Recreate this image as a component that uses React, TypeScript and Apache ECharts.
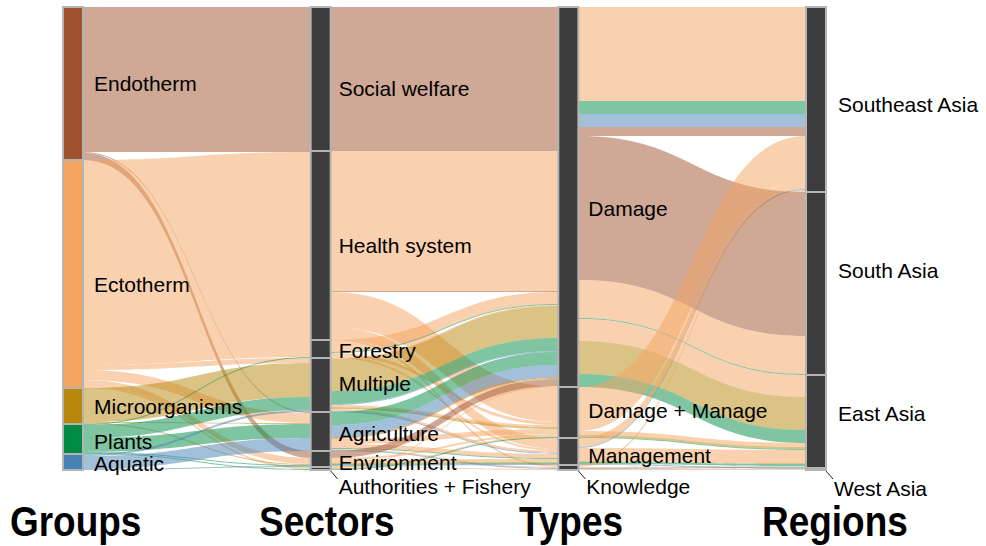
import React, { useEffect, useRef } from 'react';
import * as echarts from 'echarts';

// ---------------- data ----------------
const groups = ['Endotherm', 'Ectotherm', 'Microorganisms', 'Plants', 'Aquatic'];
const sectors = ['Social welfare', 'Health system', 'Forestry', 'Multiple', 'Agriculture', 'Environment', 'Authorities + Fishery'];
const types = ['Damage', 'Damage + Manage', 'Management', 'Knowledge'];
const regions = ['Southeast Asia', 'South Asia', 'East Asia', 'West Asia'];
const axisTitles = ['Groups', 'Sectors', 'Types', 'Regions'];

// [group, sector, value]
const groupSectorLinks: [string, string, number][] = [
  ['Endotherm', 'Social welfare', 144],
  ['Endotherm', 'Health system', 1],
  ['Endotherm', 'Agriculture', 1],
  ['Endotherm', 'Environment', 7],
  ['Ectotherm', 'Health system', 188],
  ['Ectotherm', 'Forestry', 17],
  ['Ectotherm', 'Multiple', 5],
  ['Ectotherm', 'Agriculture', 10],
  ['Ectotherm', 'Environment', 6],
  ['Ectotherm', 'Authorities + Fishery', 2],
  ['Microorganisms', 'Multiple', 34],
  ['Microorganisms', 'Agriculture', 1],
  ['Microorganisms', 'Environment', 1],
  ['Plants', 'Forestry', 1],
  ['Plants', 'Multiple', 13],
  ['Plants', 'Agriculture', 14],
  ['Plants', 'Environment', 1],
  ['Plants', 'Authorities + Fishery', 1],
  ['Aquatic', 'Multiple', 2],
  ['Aquatic', 'Agriculture', 13],
  ['Aquatic', 'Environment', 1],
];

// [sector, type, group, value]
const sectorTypeLinks: [string, string, string, number][] = [
  ['Social welfare', 'Damage', 'Endotherm', 144],
  ['Health system', 'Damage', 'Ectotherm', 140],
  ['Health system', 'Damage', 'Endotherm', 1],
  ['Health system', 'Damage + Manage', 'Ectotherm', 35],
  ['Health system', 'Management', 'Ectotherm', 11],
  ['Health system', 'Knowledge', 'Ectotherm', 2],
  ['Forestry', 'Damage', 'Ectotherm', 12],
  ['Forestry', 'Damage', 'Plants', 1],
  ['Forestry', 'Damage + Manage', 'Ectotherm', 3],
  ['Forestry', 'Management', 'Ectotherm', 2],
  ['Multiple', 'Damage', 'Ectotherm', 1],
  ['Multiple', 'Damage', 'Microorganisms', 32],
  ['Multiple', 'Damage', 'Plants', 13],
  ['Multiple', 'Damage', 'Aquatic', 1],
  ['Multiple', 'Damage + Manage', 'Ectotherm', 2],
  ['Multiple', 'Damage + Manage', 'Microorganisms', 2],
  ['Multiple', 'Management', 'Ectotherm', 2],
  ['Multiple', 'Management', 'Aquatic', 1],
  ['Agriculture', 'Damage', 'Plants', 13],
  ['Agriculture', 'Damage', 'Aquatic', 12],
  ['Agriculture', 'Damage', 'Endotherm', 1],
  ['Agriculture', 'Damage', 'Microorganisms', 1],
  ['Agriculture', 'Damage + Manage', 'Ectotherm', 5],
  ['Agriculture', 'Management', 'Ectotherm', 4],
  ['Agriculture', 'Management', 'Plants', 1],
  ['Agriculture', 'Knowledge', 'Ectotherm', 1],
  ['Agriculture', 'Knowledge', 'Aquatic', 1],
  ['Environment', 'Damage', 'Endotherm', 7],
  ['Environment', 'Damage + Manage', 'Ectotherm', 2],
  ['Environment', 'Management', 'Ectotherm', 3],
  ['Environment', 'Management', 'Microorganisms', 1],
  ['Environment', 'Management', 'Plants', 1],
  ['Environment', 'Management', 'Aquatic', 1],
  ['Environment', 'Knowledge', 'Ectotherm', 1],
  ['Authorities + Fishery', 'Damage', 'Ectotherm', 1],
  ['Authorities + Fishery', 'Damage + Manage', 'Ectotherm', 1],
  ['Authorities + Fishery', 'Damage + Manage', 'Plants', 1],
];

// [type, region, group, value]
const typeRegionLinks: [string, string, string, number][] = [
  ['Damage', 'Southeast Asia', 'Ectotherm', 94],
  ['Damage', 'Southeast Asia', 'Plants', 13],
  ['Damage', 'Southeast Asia', 'Aquatic', 13],
  ['Damage', 'Southeast Asia', 'Endotherm', 9],
  ['Damage', 'South Asia', 'Endotherm', 144],
  ['Damage', 'South Asia', 'Ectotherm', 38],
  ['Damage', 'South Asia', 'Plants', 1],
  ['Damage', 'East Asia', 'Ectotherm', 22],
  ['Damage', 'East Asia', 'Microorganisms', 33],
  ['Damage', 'East Asia', 'Plants', 13],
  ['Damage + Manage', 'Southeast Asia', 'Ectotherm', 44],
  ['Damage + Manage', 'East Asia', 'Ectotherm', 4],
  ['Damage + Manage', 'East Asia', 'Microorganisms', 2],
  ['Damage + Manage', 'East Asia', 'Plants', 1],
  ['Management', 'Southeast Asia', 'Ectotherm', 9],
  ['Management', 'Southeast Asia', 'Aquatic', 1],
  ['Management', 'East Asia', 'Ectotherm', 13],
  ['Management', 'East Asia', 'Microorganisms', 1],
  ['Management', 'East Asia', 'Plants', 2],
  ['Management', 'West Asia', 'Aquatic', 1],
  ['Knowledge', 'Southeast Asia', 'Ectotherm', 2],
  ['Knowledge', 'East Asia', 'Ectotherm', 1],
  ['Knowledge', 'East Asia', 'Aquatic', 1],
  ['Knowledge', 'West Asia', 'Ectotherm', 1],
];

// ---------------- styles ----------------
const groupColors: Record<string, string> = {
  Endotherm: '#a0522d',
  Ectotherm: '#f4a460',
  Microorganisms: '#b8860b',
  Plants: '#008b45',
  Aquatic: '#4682b4',
};
const darkNode = '#3c3c3c';
const FONT = '"Liberation Sans", Arial, Helvetica, sans-serif';

const W = 986;
const H = 546;
const L = 63;
const T = 7;
const SW = 763; // sankey width
const SH = 463; // sankey height
const NW = 20;

const columnDistance = [10, 7, 9, 11];
const labelDy: Record<string, number> = {
  Endotherm: 0,
  Ectotherm: 10,
  Microorganisms: 0,
  Plants: 2,
  Aquatic: 1,
  'Social welfare': 9,
  'Health system': 0,
  Forestry: 1,
  Multiple: -2,
  Agriculture: 2,
  Environment: 3,
  'Authorities + Fishery': 18,
  Damage: 11,
  'Damage + Manage': -2,
  Management: 4,
  Knowledge: 19,
  'Southeast Asia': 5,
  'South Asia': -13,
  'East Asia': -8,
  'West Asia': 19,
};
const belowLabelled = ['Authorities + Fishery', 'Knowledge', 'West Asia'];
const titleX = [10, 259, 519, 762];

function colRight(d: number) {
  return L + (d * (SW - NW)) / 3 + NW;
}

export default function App() {
  const ref = useRef<HTMLDivElement>(null);

  useEffect(() => {
    if (!ref.current) return;
    const chart = echarts.init(ref.current, undefined, { renderer: 'svg' });

    const columns = [groups, sectors, types, regions];
    const nodes: any[] = [];
    columns.forEach((col, d) => {
      col.forEach((name) => {
        nodes.push({
          name,
          itemStyle: { color: d === 0 ? groupColors[name] : darkNode, borderColor: '#b4b4b4', borderWidth: 2 },
          label: {
            show: true,
            position: 'right',
            distance: belowLabelled.includes(name) ? 7 : columnDistance[d],
            offset: [0, labelDy[name] || 0],
          },
        });
      });
    });

    const links: any[] = [];
    groupSectorLinks.forEach(([s, t, v]) =>
      links.push({ source: s, target: t, value: v, lineStyle: { color: groupColors[s] } })
    );
    sectorTypeLinks.forEach(([s, t, g, v]) =>
      links.push({ source: s, target: t, value: v, lineStyle: { color: groupColors[g] } })
    );
    typeRegionLinks.forEach(([s, t, g, v]) =>
      links.push({ source: s, target: t, value: v, lineStyle: { color: groupColors[g] } })
    );

    const graphics: any[] = [];
    axisTitles.forEach((t, i) => {
      graphics.push({
        type: 'text',
        x: titleX[i],
        y: 521,
        scaleX: 0.88,
        silent: true,
        style: {
          text: t,
          font: `bold 42px ${FONT}`,
          fill: '#000',
          textAlign: 'left',
          textVerticalAlign: 'middle',
        },
      });
    });
    [1, 2, 3].forEach((d) => {
      const x = colRight(d);
      graphics.push({
        type: 'line',
        silent: true,
        shape: { x1: x, y1: T + SH + 1, x2: x + 7, y2: T + SH + 9 },
        style: { stroke: '#222', lineWidth: 1 },
      });
    });

    chart.setOption({
      animation: false,
      backgroundColor: '#fff',
      series: [
        {
          type: 'sankey',
          left: L,
          top: T,
          width: SW,
          height: SH,
          nodeWidth: NW,
          nodeGap: 0,
          layoutIterations: 0,
          draggable: false,
          nodeAlign: 'justify',
          emphasis: { disabled: true },
          label: {
            color: '#000',
            fontSize: 21,
            fontFamily: FONT,
          },
          lineStyle: { curveness: 0.5, opacity: 0.5 },
          data: nodes,
          links,
        },
      ],
      graphic: graphics,
    });

    return () => chart.dispose();
  }, []);

  return (
    <div
      ref={ref}
      style={{ position: 'absolute', left: 0, top: 0, width: W, height: H, background: '#fff' }}
    />
  );
}
